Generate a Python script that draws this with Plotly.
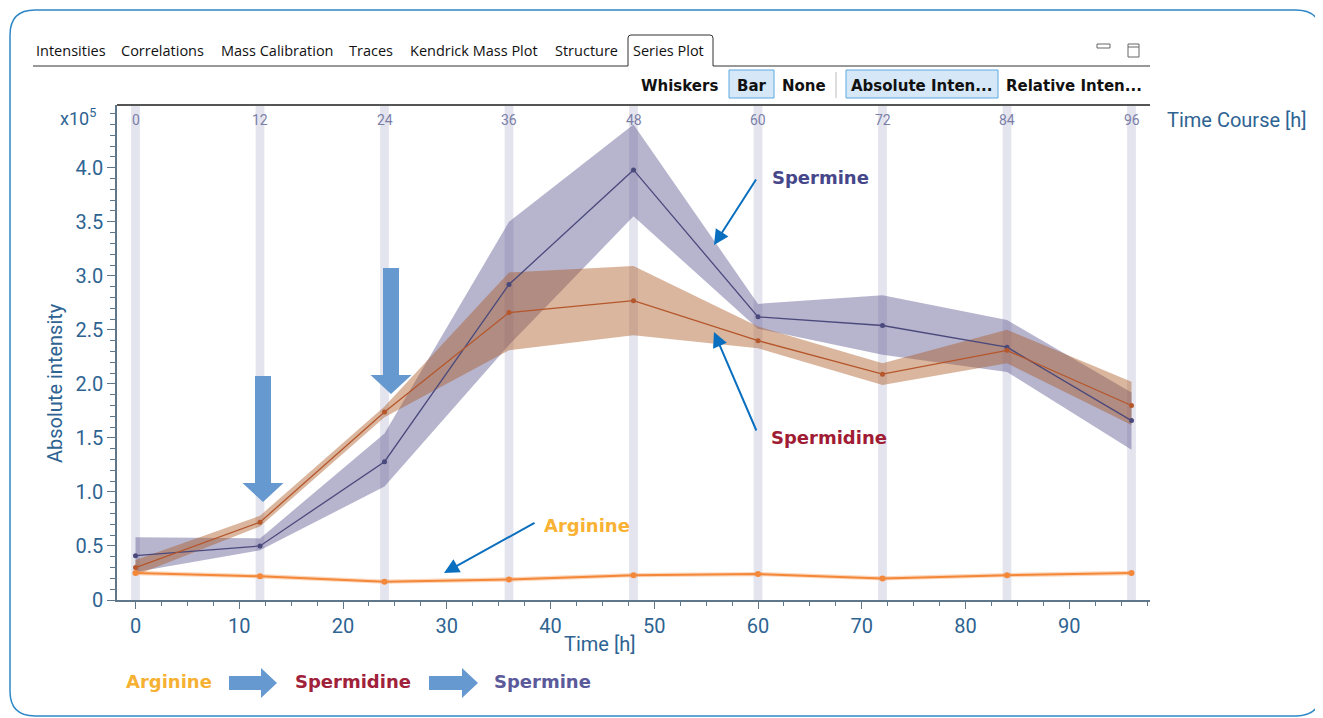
import plotly.graph_objects as go

# ---------------- data (values in units of 1e5) ----------------
time_h = [0, 12, 24, 36, 48, 60, 72, 84, 96]
spermine = [0.41, 0.50, 1.28, 2.92, 3.98, 2.62, 2.54, 2.34, 1.66]
spermine_hi = [0.58, 0.57, 1.54, 3.50, 4.40, 2.74, 2.82, 2.59, 1.92]
spermine_lo = [0.26, 0.46, 1.05, 2.36, 3.55, 2.51, 2.27, 2.11, 1.39]
spermidine = [0.30, 0.72, 1.74, 2.66, 2.77, 2.40, 2.09, 2.31, 1.80]
spermidine_hi = [0.37, 0.78, 1.79, 3.03, 3.09, 2.53, 2.19, 2.50, 2.02]
spermidine_lo = [0.23, 0.68, 1.69, 2.31, 2.45, 2.33, 1.99, 2.19, 1.62]
arginine = [0.25, 0.22, 0.17, 0.19, 0.23, 0.24, 0.20, 0.23, 0.25]
arginine_hi = [0.27, 0.24, 0.19, 0.21, 0.25, 0.26, 0.22, 0.25, 0.27]
arginine_lo = [0.23, 0.20, 0.15, 0.17, 0.21, 0.22, 0.18, 0.21, 0.23]

x_tick_vals = [0, 10, 20, 30, 40, 50, 60, 70, 80, 90]
y_tick_vals = [0, 0.5, 1.0, 1.5, 2.0, 2.5, 3.0, 3.5, 4.0]
y_tick_text = ["0", "0.5", "1.0", "1.5", "2.0", "2.5", "3.0", "3.5", "4.0"]
tabs = ["Intensities", "Correlations", "Mass Calibration", "Traces",
        "Kendrick Mass Plot", "Structure", "Series Plot"]
tab_centers = [71, 162, 277, 371, 474, 586, 668]
buttons = ["Whiskers", "Bar", "None", "Absolute Inten...", "Relative Inten..."]
button_centers = [679, 752, 804, 921, 1074]

# ---------------- geometry (reference pixels; page body has an 8px margin) ----------------
OFF = 8
W, H = 1323 - OFF, 718 - OFF
L, R, T, B = 117, 1150, 105, 600


def px(p):
    return (p - L) / (R - L)


def py(p):
    return (B - p) / (B - T)


AX_BLUE = "#2e6392"
fig = go.Figure()


def band(xs, hi, lo, color):
    fig.add_trace(go.Scatter(x=list(xs) + list(xs)[::-1], y=list(hi) + list(lo)[::-1],
                             fill="toself", fillcolor=color, line=dict(width=0),
                             mode="lines", hoverinfo="skip", showlegend=False))


band(time_h, spermine_hi, spermine_lo, "rgba(95,88,145,0.45)")
band(time_h, spermidine_hi, spermidine_lo, "rgba(170,88,35,0.44)")
band(time_h, arginine_hi, arginine_lo, "rgba(245,140,60,0.35)")

fig.add_trace(go.Scatter(x=time_h, y=spermine, mode="lines+markers", name="Spermine",
                         line=dict(color="#4a497c", width=1.3),
                         marker=dict(size=5, color="#4a497c"), showlegend=False))
fig.add_trace(go.Scatter(x=time_h, y=spermidine, mode="lines+markers", name="Spermidine",
                         line=dict(color="#b5562b", width=1.3),
                         marker=dict(size=5, color="#b5562b"), showlegend=False))
fig.add_trace(go.Scatter(x=time_h, y=arginine, mode="lines+markers", name="Arginine",
                         line=dict(color="#f4883a", width=2),
                         marker=dict(size=6, color="#f4883a"), showlegend=False))

shapes = []
annotations = []


def label(x, y, text, size, color, family="Roboto", **kw):
    annotations.append(dict(x=px(x), y=py(y), xref="paper", yref="paper", text=text,
                            showarrow=False, xanchor="center", yanchor="middle",
                            font=dict(size=size, color=color, family=family), **kw))


# vertical grey time bands + top labels
for t in time_h:
    shapes.append(dict(type="rect", xref="x", yref="paper", x0=t - 0.42, x1=t + 0.42,
                       y0=0, y1=1, fillcolor="#e4e4ee", line=dict(width=0), layer="below"))
    annotations.append(dict(x=t, y=py(120), xref="x", yref="paper", text=str(t),
                            showarrow=False, xanchor="center", yanchor="middle",
                            font=dict(size=14, color="#7b7fa8", family="Roboto")))

# plot frame top
shapes.append(dict(type="line", xref="paper", yref="paper", x0=0, x1=1, y0=1, y1=1,
                   line=dict(color="#555555", width=2)))

# outer rounded border
x0, y0, x1, y1, r = 10, 10, 1321, 716, 25
path = (f"M {px(x0+r)},{py(y0)} L {px(x1-r)},{py(y0)} Q {px(x1)},{py(y0)} {px(x1)},{py(y0+r)} "
        f"L {px(x1)},{py(y1-r)} Q {px(x1)},{py(y1)} {px(x1-r)},{py(y1)} "
        f"L {px(x0+r)},{py(y1)} Q {px(x0)},{py(y1)} {px(x0)},{py(y1-r)} "
        f"L {px(x0)},{py(y0+r)} Q {px(x0)},{py(y0)} {px(x0+r)},{py(y0)} Z")
shapes.append(dict(type="path", xref="paper", yref="paper", path=path,
                   line=dict(color="#2e88c8", width=1.5)))

# tab strip
shapes.append(dict(type="line", xref="paper", yref="paper", x0=px(33), x1=px(628), y0=py(66), y1=py(66),
                   line=dict(color="#333333", width=1)))
shapes.append(dict(type="line", xref="paper", yref="paper", x0=px(713), x1=px(1150), y0=py(66), y1=py(66),
                   line=dict(color="#333333", width=1)))
tabpath = (f"M {px(628)},{py(66)} L {px(628)},{py(38)} Q {px(628)},{py(35)} {px(631)},{py(35)} "
           f"L {px(710)},{py(35)} Q {px(713)},{py(35)} {px(713)},{py(38)} L {px(713)},{py(66)}")
shapes.append(dict(type="path", xref="paper", yref="paper", path=tabpath,
                   line=dict(color="#333333", width=1)))
# window icons
shapes.append(dict(type="rect", xref="paper", yref="paper", x0=px(1097), x1=px(1110), y0=py(48), y1=py(44),
                   line=dict(color="#666666", width=1)))
shapes.append(dict(type="rect", xref="paper", yref="paper", x0=px(1128), x1=px(1139), y0=py(57), y1=py(44),
                   line=dict(color="#666666", width=1)))
shapes.append(dict(type="line", xref="paper", yref="paper", x0=px(1128), x1=px(1139), y0=py(47), y1=py(47),
                   line=dict(color="#666666", width=1)))
# button highlight boxes
for bx0, bx1 in [(729, 774), (846, 998)]:
    shapes.append(dict(type="rect", xref="paper", yref="paper", x0=px(bx0), x1=px(bx1), y0=py(98), y1=py(70),
                       fillcolor="#d6e8f7", line=dict(color="#5aa8e0", width=1), layer="below"))
shapes.append(dict(type="line", xref="paper", yref="paper", x0=px(836), x1=px(836), y0=py(98), y1=py(72),
                   line=dict(color="#bbbbbb", width=1)))

for name, cx in zip(tabs, tab_centers):
    label(cx, 51, name, 14.5, "#111111", family="Open Sans")
for name, cx in zip(buttons, button_centers):
    label(cx, 86, f"<b>{name}</b>", 15, "#111111", family="DejaVu Sans")

# axis decorations
label(78, 117, "x10<sup>5</sup>", 18, AX_BLUE)
label(55, 383, "Absolute intensity", 20, AX_BLUE, textangle=-90)
label(600, 644, "Time [h]", 20, AX_BLUE)
label(1237, 120, "Time Course [h]", 20, AX_BLUE)

# big block arrows (down)
BLK = "#6699d0"


def down_arrow(cx, top, head_top, tip, bw, hw):
    p = (f"M {px(cx-bw/2)},{py(top)} L {px(cx+bw/2)},{py(top)} L {px(cx+bw/2)},{py(head_top)} "
         f"L {px(cx+hw/2)},{py(head_top)} L {px(cx)},{py(tip)} L {px(cx-hw/2)},{py(head_top)} "
         f"L {px(cx-bw/2)},{py(head_top)} Z")
    shapes.append(dict(type="path", xref="paper", yref="paper", path=p, fillcolor=BLK,
                       line=dict(width=0)))


down_arrow(263, 376, 483, 502, 16, 41)
down_arrow(391, 268, 375, 394, 16, 41)


def right_arrow(left, head_left, tip, cy, bh, hh):
    p = (f"M {px(left)},{py(cy-bh/2)} L {px(head_left)},{py(cy-bh/2)} L {px(head_left)},{py(cy-hh/2)} "
         f"L {px(tip)},{py(cy)} L {px(head_left)},{py(cy+hh/2)} L {px(head_left)},{py(cy+bh/2)} "
         f"L {px(left)},{py(cy+bh/2)} Z")
    shapes.append(dict(type="path", xref="paper", yref="paper", path=p, fillcolor=BLK,
                       line=dict(width=0)))


right_arrow(229, 261, 277, 683, 14, 30)
right_arrow(429, 462, 478, 683, 14, 30)

# bottom flow labels
for txt, cx, col in [("Arginine", 169, "#f6b133"), ("Spermidine", 353, "#a0213a"), ("Spermine", 542, "#5b5a9a")]:
    label(cx, 681, f"<b>{txt}</b>", 18, col, family="DejaVu Sans")

# callout labels and thin arrows
for txt, cx, cy, col in [("Spermine", 820, 178, "#46468a"), ("Spermidine", 829, 437, "#a01c34"),
                         ("Arginine", 587, 525, "#f9b233")]:
    label(cx, cy, f"<b>{txt}</b>", 18, col, family="DejaVu Sans")
for (tx, ty), (hx, hy) in [((757, 178), (714, 245)), ((757, 432), (714, 332)), ((536, 522), (444, 573))]:
    annotations.append(dict(x=px(hx), y=py(hy), xref="paper", yref="paper", text="",
                            showarrow=True, ax=tx - hx, ay=ty - hy, arrowhead=2, arrowsize=1.5,
                            arrowwidth=2, arrowcolor="#0b6fbf", standoff=0))

fig.update_layout(
    width=W, height=H,
    margin=dict(l=L - OFF, r=1323 - R, t=T - OFF, b=718 - B),
    paper_bgcolor="white", plot_bgcolor="white",
    shapes=shapes, annotations=annotations,
    xaxis=dict(range=[(L - 135.5) / 10.375, (R - 135.5) / 10.375], tickvals=x_tick_vals,
               showgrid=False, zeroline=False, showline=True, linecolor="#60778a", linewidth=1.5,
               ticks="outside", ticklen=7, tickcolor="#60778a",
               minor=dict(dtick=2.5, ticks="outside", ticklen=4, tickcolor="#60778a"),
               tickfont=dict(size=20, color=AX_BLUE, family="Roboto")),
    yaxis=dict(range=[0, (599.7 - T) / 108], tickvals=y_tick_vals, ticktext=y_tick_text,
               showgrid=False, zeroline=False, showline=True, linecolor="#60778a", linewidth=1.5,
               ticks="outside", ticklen=8, tickcolor="#60778a",
               minor=dict(dtick=0.1, ticks="outside", ticklen=5, tickcolor="#60778a"),
               tickfont=dict(size=20, color=AX_BLUE, family="Roboto")),
)

fig.write_html("out.html")
